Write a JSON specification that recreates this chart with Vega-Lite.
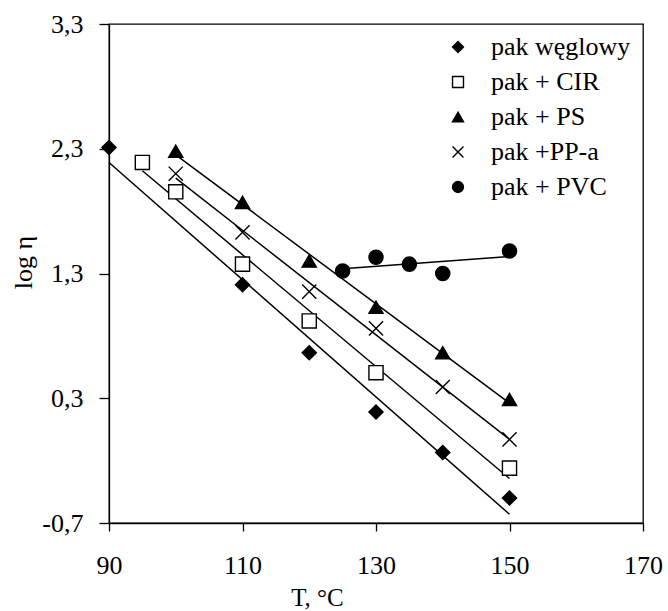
{
  "$schema": "https://vega.github.io/schema/vega-lite/v6.json",
  "width": 534,
  "height": 499,
  "autosize": {"type": "none"},
  "padding": {"left": 109, "top": 24, "right": 25, "bottom": 88},
  "background": "white",
  "config": {
    "font": "Liberation Serif",
    "style": {"guide-label": {"font": "Liberation Serif"}, "guide-title": {"font": "Liberation Serif"}},
    "view": {"stroke": "#000", "strokeWidth": 1.3},
    "axis": {"grid": false, "domainColor": "#000", "domainWidth": 1.3, "tickColor": "#000", "tickWidth": 1.3, "labelColor": "#000", "titleColor": "#000", "labelFont": "Liberation Serif", "titleFont": "Liberation Serif", "labelFontSize": 26, "titleFontSize": 26, "titleFontWeight": "normal"},
    "legend": {"labelFont": "Liberation Serif", "labelFontSize": 26, "labelColor": "#000"}
  },
  "data": {
    "values": [
      {"series": "pak węglowy", "T": 90, "v": 2.31},
      {"series": "pak węglowy", "T": 110, "v": 1.21},
      {"series": "pak węglowy", "T": 120, "v": 0.665},
      {"series": "pak węglowy", "T": 130, "v": 0.19},
      {"series": "pak węglowy", "T": 140, "v": -0.135},
      {"series": "pak węglowy", "T": 150, "v": -0.5},
      {"series": "pak + CIR", "T": 95, "v": 2.19},
      {"series": "pak + CIR", "T": 100, "v": 1.955},
      {"series": "pak + CIR", "T": 110, "v": 1.375},
      {"series": "pak + CIR", "T": 120, "v": 0.92},
      {"series": "pak + CIR", "T": 130, "v": 0.505},
      {"series": "pak + CIR", "T": 150, "v": -0.26},
      {"series": "pak + PS", "T": 100, "v": 2.28},
      {"series": "pak + PS", "T": 110, "v": 1.87},
      {"series": "pak + PS", "T": 120, "v": 1.4},
      {"series": "pak + PS", "T": 130, "v": 1.03},
      {"series": "pak + PS", "T": 140, "v": 0.665},
      {"series": "pak + PS", "T": 150, "v": 0.29},
      {"series": "pak +PP-a", "T": 100, "v": 2.1},
      {"series": "pak +PP-a", "T": 110, "v": 1.63},
      {"series": "pak +PP-a", "T": 120, "v": 1.155},
      {"series": "pak +PP-a", "T": 130, "v": 0.86},
      {"series": "pak +PP-a", "T": 140, "v": 0.39},
      {"series": "pak +PP-a", "T": 150, "v": -0.03},
      {"series": "pak + PVC", "T": 125, "v": 1.32},
      {"series": "pak + PVC", "T": 130, "v": 1.43},
      {"series": "pak + PVC", "T": 135, "v": 1.375},
      {"series": "pak + PVC", "T": 140, "v": 1.3},
      {"series": "pak + PVC", "T": 150, "v": 1.48}
    ]
  },
  "encoding": {
    "x": {"field": "T", "type": "quantitative", "scale": {"domain": [90, 170], "nice": false, "zero": false},
      "axis": {"values": [90, 110, 130, 150, 170], "labelFlush": false, "labelFont": "Liberation Serif", "labelFontSize": 26, "tickSize": 8, "labelPadding": 21, "title": "T,  °C", "titleFont": "Liberation Serif", "titleFontSize": 25, "titleX": 208, "titleY": 74, "titleBaseline": "middle", "titleAlign": "center"}},
    "y": {"field": "v", "type": "quantitative", "scale": {"domain": [-0.7, 3.3], "nice": false, "zero": false},
      "axis": {"values": [-0.7, 0.3, 1.3, 2.3, 3.3], "labelFont": "Liberation Serif", "labelFontSize": 26, "tickSize": 10, "labelPadding": 16, "labelExpr": "replace(toString(datum.value), '.', ',')", "title": "log η", "titleFont": "Liberation Serif", "titleFontSize": 26, "titleX": -86, "titleY": 238, "titleBaseline": "middle", "titleAlign": "center"}}
  },
  "layer": [
    {
      "transform": [{"regression": "v", "on": "T", "groupby": ["series"]}],
      "mark": {"type": "line", "color": "#000", "strokeWidth": 1.5},
      "encoding": {"detail": {"field": "series"}}
    },
    {
      "mark": {"type": "point", "filled": true, "stroke": "#000", "strokeWidth": 1.4, "opacity": 1, "size": 200},
      "encoding": {
        "shape": {"field": "series", "type": "nominal",
          "scale": {"domain": ["pak węglowy", "pak + CIR", "pak + PS", "pak +PP-a", "pak + PVC"], "range": ["diamond", "square", "triangle-up", "M-1,-1L1,1M-1,1L1,-1", "circle"]},
          "legend": {"title": null, "orient": "none", "legendX": 336, "legendY": 10, "labelFont": "Liberation Serif", "labelFontSize": 26, "labelColor": "#000", "labelOffset": 20, "rowPadding": 9, "symbolSize": 120, "symbolStrokeWidth": 1.4,
            "encode": {
              "labels": {"update": {"font": {"value": "Liberation Serif"}, "fontSize": {"value": 26}, "fill": {"value": "#000"}}},
              "symbols": {"update": {"stroke": {"value": "#000"}, "strokeWidth": {"value": 1.4}, "fill": {"signal": "datum.value === 'pak + CIR' ? '#fff' : '#000'"}, "opacity": {"value": 1}}}
            }}},
        "fill": {"field": "series", "type": "nominal", "legend": null,
          "scale": {"domain": ["pak węglowy", "pak + CIR", "pak + PS", "pak +PP-a", "pak + PVC"], "range": ["#000", "#fff", "#000", "#000", "#000"]}}
      }
    }
  ]
}
